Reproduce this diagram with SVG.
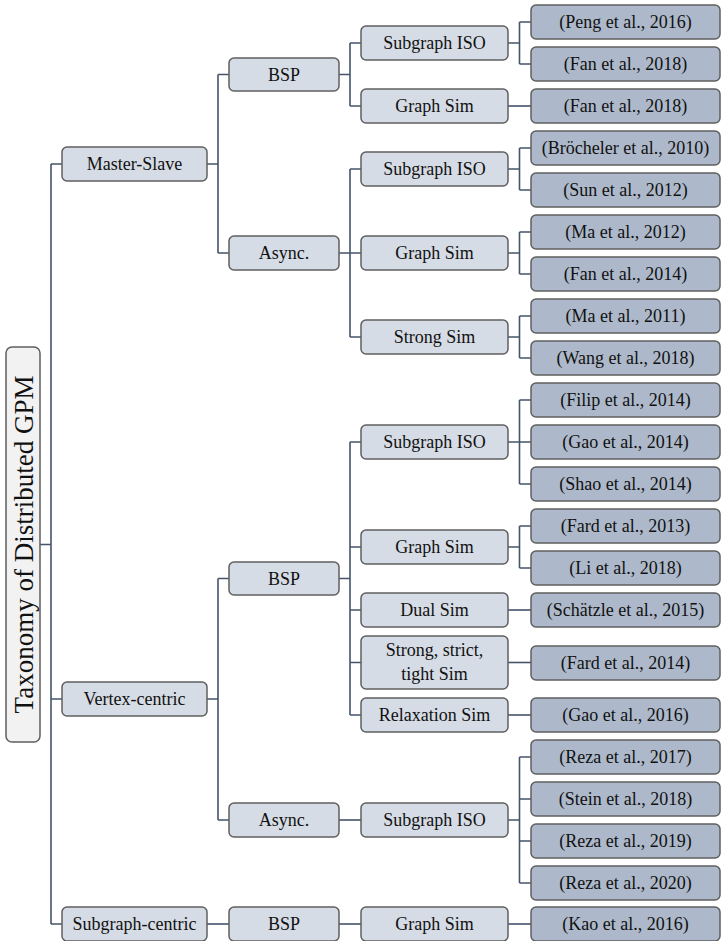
<svg xmlns="http://www.w3.org/2000/svg" width="721" height="941" viewBox="0 0 721 941">
<style>
.t{font-family:"Liberation Serif","Times New Roman",serif;font-size:18px;fill:#111;text-anchor:middle}
.root{fill:#f2f2f2;stroke:#5f5f5f;stroke-width:1.5}
.mid{fill:#d6dce5;stroke:#5f5f5f;stroke-width:1.5}
.leaf{fill:#adb9ca;stroke:#5f5f5f;stroke-width:1.5}
.c{fill:none;stroke:#44546a;stroke-width:1.6}
</style>
<rect width="721" height="941" fill="#fff"/>
<g id="connectors" class="c">
<path d="M40 544.5H51M51 164V924M51 164H62M51 699H62M51 924H62"/>
<path d="M207 164H218M218 74.5V253M218 74.5H229M218 253H229"/>
<path d="M207 699H218M218 578.5V820M218 578.5H229M218 820H229"/>
<path d="M207 924H229"/>
<path d="M339 74.5H350M350 43V106M350 43H361M350 106H361"/>
<path d="M339 253H350M350 169V337M350 169H361M350 253H361M350 337H361"/>
<path d="M339 578.5H350M350 442V715M350 442H361M350 547H361M350 610H361M350 662.5H361M350 715H361"/>
<path d="M339 820H361"/>
<path d="M339 924H361"/>
<path d="M508 43H519.5M519.5 22V64M519.5 22H531M519.5 64H531"/>
<path d="M508 106H531"/>
<path d="M508 169H519.5M519.5 148V190M519.5 148H531M519.5 190H531"/>
<path d="M508 253H519.5M519.5 232V274M519.5 232H531M519.5 274H531"/>
<path d="M508 337H519.5M519.5 316V358M519.5 316H531M519.5 358H531"/>
<path d="M508 442H519.5M519.5 400V484M519.5 400H531M519.5 442H531M519.5 484H531"/>
<path d="M508 547H519.5M519.5 526V568M519.5 526H531M519.5 568H531"/>
<path d="M508 610H531"/>
<path d="M508 662.5H531"/>
<path d="M508 715H531"/>
<path d="M508 820H519.5M519.5 757V883M519.5 757H531M519.5 799H531M519.5 841H531M519.5 883H531"/>
<path d="M508 924H531"/>
</g>
<g id="root"><rect class="root" x="6" y="347" width="34" height="395" rx="6"/><text class="t" style="font-size:27px" transform="translate(33,544.5) rotate(-90)">Taxonomy of Distributed GPM</text></g>
<g id="ms"><rect class="mid" x="62" y="147" width="145" height="34" rx="5"/><text class="t" x="134.5" y="170">Master-Slave</text></g>
<g id="vc"><rect class="mid" x="62" y="682" width="145" height="34" rx="5"/><text class="t" x="134.5" y="705">Vertex-centric</text></g>
<g id="sc"><rect class="mid" x="62" y="907" width="145" height="34" rx="5"/><text class="t" x="134.5" y="930">Subgraph-centric</text></g>
<g id="ms-bsp"><rect class="mid" x="229" y="58" width="110" height="33" rx="5"/><text class="t" x="284" y="80.5">BSP</text></g>
<g id="ms-async"><rect class="mid" x="229" y="236" width="110" height="34" rx="5"/><text class="t" x="284" y="259">Async.</text></g>
<g id="vc-bsp"><rect class="mid" x="229" y="562" width="110" height="33" rx="5"/><text class="t" x="284" y="584.5">BSP</text></g>
<g id="vc-async"><rect class="mid" x="229" y="803" width="110" height="34" rx="5"/><text class="t" x="284" y="826">Async.</text></g>
<g id="sc-bsp"><rect class="mid" x="229" y="907" width="110" height="34" rx="5"/><text class="t" x="284" y="930">BSP</text></g>
<g id="l3-1"><rect class="mid" x="361" y="26" width="147" height="34" rx="5"/><text class="t" x="434.5" y="49">Subgraph ISO</text></g>
<g id="l3-2"><rect class="mid" x="361" y="89" width="147" height="34" rx="5"/><text class="t" x="434.5" y="112">Graph Sim</text></g>
<g id="l3-3"><rect class="mid" x="361" y="152" width="147" height="34" rx="5"/><text class="t" x="434.5" y="175">Subgraph ISO</text></g>
<g id="l3-4"><rect class="mid" x="361" y="236" width="147" height="34" rx="5"/><text class="t" x="434.5" y="259">Graph Sim</text></g>
<g id="l3-5"><rect class="mid" x="361" y="320" width="147" height="34" rx="5"/><text class="t" x="434.5" y="343">Strong Sim</text></g>
<g id="l3-6"><rect class="mid" x="361" y="425" width="147" height="34" rx="5"/><text class="t" x="434.5" y="448">Subgraph ISO</text></g>
<g id="l3-7"><rect class="mid" x="361" y="530" width="147" height="34" rx="5"/><text class="t" x="434.5" y="553">Graph Sim</text></g>
<g id="l3-8"><rect class="mid" x="361" y="593" width="147" height="34" rx="5"/><text class="t" x="434.5" y="616">Dual Sim</text></g>
<g id="l3-9"><rect class="mid" x="361" y="636" width="147" height="53" rx="5"/><text class="t" x="434.5" y="656">Strong, strict,</text><text class="t" x="434.5" y="680">tight Sim</text></g>
<g id="l3-10"><rect class="mid" x="361" y="698" width="147" height="34" rx="5"/><text class="t" x="434.5" y="721">Relaxation Sim</text></g>
<g id="l3-11"><rect class="mid" x="361" y="803" width="147" height="34" rx="5"/><text class="t" x="434.5" y="826">Subgraph ISO</text></g>
<g id="l3-12"><rect class="mid" x="361" y="907" width="147" height="34" rx="5"/><text class="t" x="434.5" y="930">Graph Sim</text></g>
<g id="r1"><rect class="leaf" x="531" y="5" width="189" height="34" rx="5"/><text class="t" x="625.5" y="28">(Peng et al., 2016)</text></g>
<g id="r2"><rect class="leaf" x="531" y="47" width="189" height="34" rx="5"/><text class="t" x="625.5" y="70">(Fan et al., 2018)</text></g>
<g id="r3"><rect class="leaf" x="531" y="89" width="189" height="34" rx="5"/><text class="t" x="625.5" y="112">(Fan et al., 2018)</text></g>
<g id="r4"><rect class="leaf" x="531" y="131" width="189" height="34" rx="5"/><text class="t" x="625.5" y="154">(Bröcheler et al., 2010)</text></g>
<g id="r5"><rect class="leaf" x="531" y="173" width="189" height="34" rx="5"/><text class="t" x="625.5" y="196">(Sun et al., 2012)</text></g>
<g id="r6"><rect class="leaf" x="531" y="215" width="189" height="34" rx="5"/><text class="t" x="625.5" y="238">(Ma et al., 2012)</text></g>
<g id="r7"><rect class="leaf" x="531" y="257" width="189" height="34" rx="5"/><text class="t" x="625.5" y="280">(Fan et al., 2014)</text></g>
<g id="r8"><rect class="leaf" x="531" y="299" width="189" height="34" rx="5"/><text class="t" x="625.5" y="322">(Ma et al., 2011)</text></g>
<g id="r9"><rect class="leaf" x="531" y="341" width="189" height="34" rx="5"/><text class="t" x="625.5" y="364">(Wang et al., 2018)</text></g>
<g id="r10"><rect class="leaf" x="531" y="383" width="189" height="34" rx="5"/><text class="t" x="625.5" y="406">(Filip et al., 2014)</text></g>
<g id="r11"><rect class="leaf" x="531" y="425" width="189" height="34" rx="5"/><text class="t" x="625.5" y="448">(Gao et al., 2014)</text></g>
<g id="r12"><rect class="leaf" x="531" y="467" width="189" height="34" rx="5"/><text class="t" x="625.5" y="490">(Shao et al., 2014)</text></g>
<g id="r13"><rect class="leaf" x="531" y="509" width="189" height="34" rx="5"/><text class="t" x="625.5" y="532">(Fard et al., 2013)</text></g>
<g id="r14"><rect class="leaf" x="531" y="551" width="189" height="34" rx="5"/><text class="t" x="625.5" y="574">(Li et al., 2018)</text></g>
<g id="r15"><rect class="leaf" x="531" y="593" width="189" height="34" rx="5"/><text class="t" x="625.5" y="616">(Schätzle et al., 2015)</text></g>
<g id="r16"><rect class="leaf" x="531" y="646" width="189" height="34" rx="5"/><text class="t" x="625.5" y="669">(Fard et al., 2014)</text></g>
<g id="r17"><rect class="leaf" x="531" y="698" width="189" height="34" rx="5"/><text class="t" x="625.5" y="721">(Gao et al., 2016)</text></g>
<g id="r18"><rect class="leaf" x="531" y="740" width="189" height="34" rx="5"/><text class="t" x="625.5" y="763">(Reza et al., 2017)</text></g>
<g id="r19"><rect class="leaf" x="531" y="782" width="189" height="34" rx="5"/><text class="t" x="625.5" y="805">(Stein et al., 2018)</text></g>
<g id="r20"><rect class="leaf" x="531" y="824" width="189" height="34" rx="5"/><text class="t" x="625.5" y="847">(Reza et al., 2019)</text></g>
<g id="r21"><rect class="leaf" x="531" y="866" width="189" height="34" rx="5"/><text class="t" x="625.5" y="889">(Reza et al., 2020)</text></g>
<g id="r22"><rect class="leaf" x="531" y="907" width="189" height="34" rx="5"/><text class="t" x="625.5" y="930">(Kao et al., 2016)</text></g>
</svg>
